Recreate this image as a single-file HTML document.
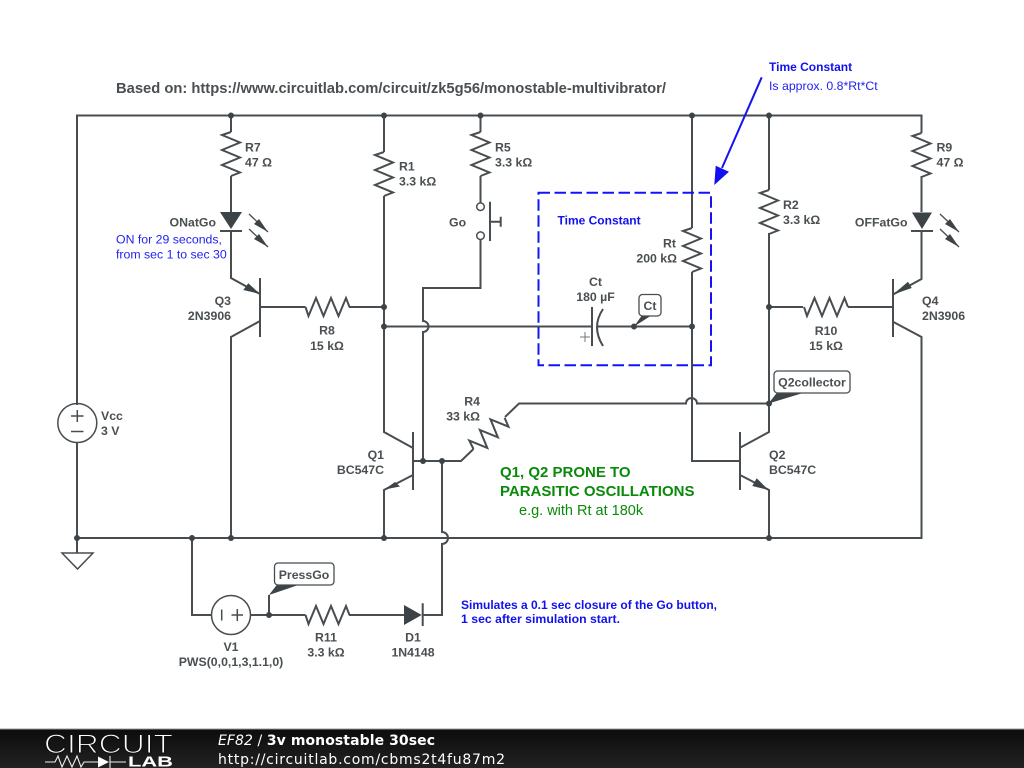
<!DOCTYPE html>
<html><head><meta charset="utf-8"><style>
html,body{margin:0;padding:0;background:#fff;width:1024px;height:768px;overflow:hidden}
svg{display:block}
.w{fill:none;stroke:#474d50;stroke-width:2;stroke-linejoin:miter}
.t{font-family:"Liberation Sans",sans-serif;font-size:12.3px;font-weight:bold;fill:#4a4f52}
.b{font-family:"Liberation Sans",sans-serif;font-size:12.3px;fill:#2222ee}
.bb{font-family:"Liberation Sans",sans-serif;font-size:12px;font-weight:bold;fill:#1111ee}
.g{font-family:"Liberation Sans",sans-serif;font-size:15px;font-weight:bold;fill:#0a8a0a}
.f{font-family:"DejaVu Sans",sans-serif;font-size:14px;fill:#fff}
.m{text-anchor:middle}.e{text-anchor:end}
</style></head><body>
<svg width="1024" height="768" viewBox="0 0 1024 768" xmlns="http://www.w3.org/2000/svg">
<defs>
<linearGradient id="fg" x1="0" y1="0" x2="0" y2="1"><stop offset="0" stop-color="#0c0c0c"/><stop offset="1" stop-color="#222"/></linearGradient>
<polyline id="r" points="0,0 3,9 10.5,-9 18,9 25.5,-9 33,9 40.5,-9 44,0" class="w"/>
</defs>
<rect width="1024" height="768" fill="#fff"/>

<!-- wires -->
<path class="w" d="M77 405V115.5H921.5V133M921.5 176V212M921.5 231V279L893 294.5M893 321.7L921.5 337V538H77M77 442V553"/>
<path class="w" d="M231 115.5V132M231 176V212M231 231V278L260 294M260 321L231 337V538"/>
<path class="w" d="M260 307H305.5M349 307H384"/>
<path class="w" d="M384 115.5V152M384 196V432L413 448M413 475L384 490V538"/>
<path class="w" d="M480.500 115.500V132M480.500 176V203M480.500 239.500V288H423V321A5.500 5.500 0 0 1 423 332V461"/>
<path class="w" d="M384 326.500H592M597 326.500H692"/>
<path class="w" d="M692 115.500V228M692 272V461H740"/>
<path class="w" d="M769 115.500V190M769 233V432L740 447.700M740 475L769 490V538"/>
<path class="w" d="M769 307H803M848 307H893"/>
<path class="w" d="M413 461H461L473.500 449M505 417L519 403.500H686A5.500 5.500 0 0 1 697 403.500H769"/>
<path class="w" d="M442 461V532A6 6 0 0 1 442 544V615H422.700"/>
<path class="w" d="M192 538V615H211.500M250.500 615H305.500M349 615H404M269 615V595"/>

<!-- transistor bars -->
<path class="w" d="M260 278V337M893 279V337M413 432V490M740 432V490"/>
<path class="w" d="M592 307V346M603 309Q591 327 603 346"/>
<path class="w" d="M490 201.700V241M490 221.700H500.700M500.700 216.700V226.700"/>
<circle class="w" cx="480.500" cy="206.700" r="3.800" style="stroke-width:1.500"/>
<circle class="w" cx="480.500" cy="235.700" r="3.800" style="stroke-width:1.500"/>

<!-- resistors -->
<use href="#r" transform="translate(231 132) rotate(90)"/>
<use href="#r" transform="translate(384 152) rotate(90)"/>
<use href="#r" transform="translate(480.500 132) rotate(90)"/>
<use href="#r" transform="translate(692 228) rotate(90)"/>
<use href="#r" transform="translate(769 190) rotate(90)"/>
<use href="#r" transform="translate(921.500 133) rotate(90)"/>
<use href="#r" transform="translate(305.500 307)"/>
<use href="#r" transform="translate(804 307)"/>
<use href="#r" transform="translate(305.500 615)"/>
<use href="#r" transform="translate(473.500 449) rotate(-45) scale(1 -1)"/>

<!-- arrows/diodes -->
<g fill="#3d4447">
<polygon points="220,212 242,212 231,229"/>
<polygon points="912,212.500 932,212.500 922,229"/>
<polygon points="404,605 404,625 421.700,615"/>
<polygon points="260,294 248.300,283.300 243.300,290"/>
<polygon points="893,294.500 908,281.700 911.700,288"/>
<polygon points="384.500,489.500 395,482 400,486.500"/>
<polygon points="768.500,490 756.700,478.300 752.300,486"/>
</g>
<path class="w" d="M220 231H242M911 231H933M422.700 603.300V626"/>

<!-- LED rays -->
<path class="w" style="stroke-width:1.300" d="M249 214L268 232M249 229L268 247M940 214L959 232M940 229L959 247"/>
<g fill="#3d4447">
<polygon points="268,232 254,224 259,219"/>
<polygon points="268,247 254,239 259,234"/>
<polygon points="959,232 945,224 950,219"/>
<polygon points="959,247 945,239 950,234"/>
</g>

<!-- sources, ground -->
<g class="w" style="stroke-width:1.500">
<circle cx="77.300" cy="423" r="19.500"/>
<path d="M71 416H83.500M77.300 410V422M71 431.500H83.500"/>
<circle cx="231" cy="615" r="19.500"/>
<path d="M221.700 609.500V620.500M231.500 615H243M237.300 609V621"/>
<path d="M62 553H93L77.500 569Z"/>
<path d="M585 332V342M580 337H590" style="stroke:#777;stroke-width:1"/>
</g>

<!-- junctions -->
<g fill="#3d4447">
<circle cx="231" cy="115.500" r="3"/><circle cx="384" cy="115.500" r="3"/><circle cx="480.500" cy="115.500" r="3"/><circle cx="692" cy="115.500" r="3"/><circle cx="769" cy="115.500" r="3"/>
<circle cx="384" cy="307" r="3"/><circle cx="384" cy="326.500" r="3"/><circle cx="769" cy="307" r="3"/><circle cx="692" cy="326.500" r="3"/><circle cx="634" cy="326.500" r="3"/>
<circle cx="77" cy="538" r="3"/><circle cx="192" cy="538" r="3"/><circle cx="231" cy="538" r="3"/><circle cx="384" cy="538" r="3"/><circle cx="769" cy="538" r="3"/>
<circle cx="269" cy="615" r="3"/><circle cx="423" cy="461" r="3"/><circle cx="442" cy="461" r="3"/><circle cx="769" cy="403.500" r="3"/>
<polygon points="634,326.500 641.500,316 650.500,316"/>
<polygon points="768.500,403.500 776.700,393 803,393"/>
<polygon points="269,595 276.700,585 298.300,585"/>
</g>

<!-- callouts -->
<g fill="#fff" stroke="#474d50" stroke-width="1.300">
<rect x="639" y="294.500" width="22" height="21.500" rx="3.500"/>
<rect x="774" y="371" width="76" height="22" rx="3.500"/>
<rect x="274.500" y="563" width="59.500" height="22" rx="3.500"/>
</g>

<!-- blue annotation -->
<rect x="538.500" y="192.800" width="172.500" height="172.500" fill="none" stroke="#1414f0" stroke-width="2" stroke-dasharray="11.500 4.500"/>
<line x1="761.700" y1="77.300" x2="722" y2="168" stroke="#1414f0" stroke-width="2"/>
<polygon points="714.300,185 715.700,165.700 729,171.700" fill="#1010f0"/>

<!-- labels -->
<text x="116" y="93" textLength="550" lengthAdjust="spacingAndGlyphs" style="font-family:'Liberation Sans',sans-serif;font-size:14.7px;font-weight:bold;fill:#4a4f52">Based on: https://www.circuitlab.com/circuit/zk5g56/monostable-multivibrator/</text>
<text class="bb" x="769" y="71">Time Constant</text>
<text class="b" x="769" y="90">Is approx. 0.8*Rt*Ct</text>
<text class="t" x="245" y="151.500">R7</text><text class="t" x="245" y="166.500">47 Ω</text>
<text class="t e" x="216" y="226.500">ONatGo</text>
<text class="b" x="116" y="243.300">ON for 29 seconds,</text>
<text class="b" x="116" y="258.300">from sec 1 to sec 30</text>
<text class="t e" x="231" y="305">Q3</text><text class="t e" x="231" y="320">2N3906</text>
<text class="t m" x="327" y="334.500">R8</text><text class="t m" x="327" y="350">15 kΩ</text>
<text class="t" x="399" y="170.500">R1</text><text class="t" x="399" y="185.500">3.3 kΩ</text>
<text class="t" x="495" y="151.500">R5</text><text class="t" x="495" y="166.500">3.3 kΩ</text>
<text class="t" x="449" y="226.500">Go</text>
<text class="bb" x="557.500" y="224.500">Time Constant</text>
<text class="t e" x="676" y="247.500">Rt</text><text class="t e" x="677" y="262.500">200 kΩ</text>
<text class="t m" x="595.500" y="286">Ct</text><text class="t m" x="595.500" y="301">180 µF</text>
<text class="t m" x="650" y="310">Ct</text>
<text class="t" x="783" y="209">R2</text><text class="t" x="783" y="224">3.3 kΩ</text>
<text class="t" x="936.500" y="151.500">R9</text><text class="t" x="936.500" y="166.500">47 Ω</text>
<text class="t e" x="907.500" y="226.500">OFFatGo</text>
<text class="t" x="922" y="305">Q4</text><text class="t" x="922" y="320">2N3906</text>
<text class="t m" x="826" y="335">R10</text><text class="t m" x="826" y="350">15 kΩ</text>
<text class="t m" x="812" y="386.500">Q2collector</text>
<text class="t e" x="480" y="405.500">R4</text><text class="t e" x="480" y="420.500">33 kΩ</text>
<text class="t e" x="384" y="459">Q1</text><text class="t e" x="384" y="474">BC547C</text>
<text class="t" x="769" y="459">Q2</text><text class="t" x="769" y="474">BC547C</text>
<text class="g" x="500" y="477">Q1, Q2 PRONE TO</text>
<text class="g" x="500" y="496">PARASITIC OSCILLATIONS</text>
<text class="g" x="519" y="515" style="font-weight:normal;font-size:14.500px">e.g. with Rt at 180k</text>
<text class="t" x="101" y="420">Vcc</text><text class="t" x="101" y="435">3 V</text>
<text class="t m" x="304" y="579">PressGo</text>
<text class="t m" x="231" y="651">V1</text><text class="t m" x="231" y="666">PWS(0,0,1,3,1.1,0)</text>
<text class="t m" x="326" y="641.500">R11</text><text class="t m" x="326" y="656.500">3.3 kΩ</text>
<text class="t m" x="413" y="641.500">D1</text><text class="t m" x="413" y="656.500">1N4148</text>
<text class="bb" x="461" y="609" textLength="256" lengthAdjust="spacingAndGlyphs">Simulates a 0.1 sec closure of the Go button,</text>
<text class="bb" x="461" y="623" textLength="159" lengthAdjust="spacingAndGlyphs">1 sec after simulation start.</text>

<!-- footer -->
<rect x="0" y="729" width="1024" height="39" fill="url(#fg)"/>
<rect x="0" y="728.500" width="1024" height="1" fill="#999"/>
<text x="44" y="753" textLength="129" lengthAdjust="spacingAndGlyphs" style="font-family:'Liberation Sans',sans-serif;font-size:27px;fill:#fff;stroke:#111;stroke-width:1.100;paint-order:fill">CIRCUIT</text>
<text x="128" y="766.500" textLength="45" lengthAdjust="spacingAndGlyphs" style="font-family:'Liberation Sans',sans-serif;font-size:15px;font-weight:bold;fill:#fff">LAB</text>
<path d="M45 762H55L58 756L62 767L67 756L72 767L77 756L81 767L84 762H98M110 762H126M110 756V768" fill="none" stroke="#eee" stroke-width="1.100"/>
<polygon points="98,756.500 98,767.500 109,762" fill="#fff"/>
<text class="f" x="218" y="745" textLength="217" lengthAdjust="spacing"><tspan font-style="italic">EF82</tspan> / <tspan font-weight="bold">3v monostable 30sec</tspan></text>
<text class="f" x="218" y="764" textLength="287" lengthAdjust="spacing">http://circuitlab.com/cbms2t4fu87m2</text>
</svg>
</body></html>
